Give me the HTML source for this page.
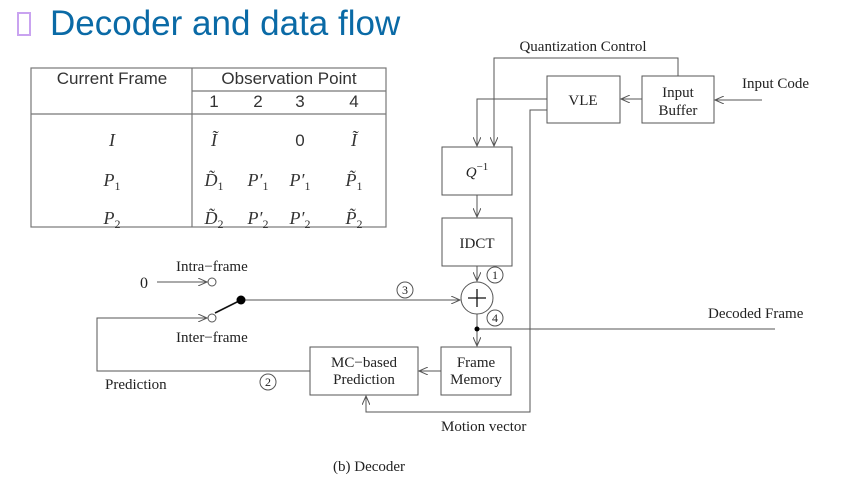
<!DOCTYPE html>
<html><head><meta charset="utf-8"><style>
body{margin:0;width:851px;height:482px;background:#fff;overflow:hidden;position:relative;font-family:"Liberation Serif",serif}
.t{position:absolute;white-space:nowrap}
</style></head><body>
<div class="t" style="left:17px;top:12px;width:14px;height:24px;border:2px solid #c9a3f0;box-sizing:border-box"></div>
<div class="t" style="left:50px;top:4px;font-family:'Liberation Sans',sans-serif;font-size:35px;color:#0a6aa6">Decoder and data flow</div>
<svg width="851" height="482" style="position:absolute;left:0;top:0" font-family="Liberation Serif, serif" font-size="15">
<defs><marker id="a" markerWidth="10" markerHeight="8" refX="9" refY="4" orient="auto" markerUnits="userSpaceOnUse"><path d="M0,0 L9,4 L0,8" fill="none" stroke="#555" stroke-width="1"/></marker></defs>
<g stroke="#777" fill="none" stroke-width="1.2">
<rect x="31" y="68" width="355" height="159"/>
<line x1="192" y1="68" x2="192" y2="227"/>
<line x1="192" y1="91" x2="386" y2="91"/>
<line x1="31" y1="114" x2="386" y2="114"/>
</g>
<g font-family="Liberation Sans, sans-serif" font-size="17" fill="#333" text-anchor="middle">
<text x="112" y="84">Current Frame</text><text x="289" y="84">Observation Point</text>
<text x="214" y="107">1</text><text x="258" y="107">2</text><text x="300" y="107">3</text><text x="354" y="107">4</text>
<text x="300" y="146">0</text>
</g>
<g font-family="Liberation Serif, serif" font-style="italic" font-size="18" fill="#333" text-anchor="middle">
<text x="112" y="146">I</text><text x="214" y="146">Ĩ</text><text x="354" y="146">Ĩ</text>
<text x="112" y="186">P<tspan font-size="12" dy="4" font-style="normal">1</tspan></text>
<text x="214" y="186">D̃<tspan font-size="12" dy="4" font-style="normal">1</tspan></text>
<text x="258" y="186">P′<tspan font-size="12" dy="4" font-style="normal">1</tspan></text>
<text x="300" y="186">P′<tspan font-size="12" dy="4" font-style="normal">1</tspan></text>
<text x="354" y="186">P̃<tspan font-size="12" dy="4" font-style="normal">1</tspan></text>
<text x="112" y="224">P<tspan font-size="12" dy="4" font-style="normal">2</tspan></text>
<text x="214" y="224">D̃<tspan font-size="12" dy="4" font-style="normal">2</tspan></text>
<text x="258" y="224">P′<tspan font-size="12" dy="4" font-style="normal">2</tspan></text>
<text x="300" y="224">P′<tspan font-size="12" dy="4" font-style="normal">2</tspan></text>
<text x="354" y="224">P̃<tspan font-size="12" dy="4" font-style="normal">2</tspan></text>
</g>
<g stroke="#555" fill="none" stroke-width="1">
<rect x="547" y="76" width="73" height="47"/>
<rect x="642" y="76" width="72" height="47"/>
<rect x="442" y="147" width="70" height="48"/>
<rect x="442" y="218" width="70" height="48"/>
<rect x="441" y="347" width="70" height="48"/>
<rect x="310" y="347" width="108" height="48"/>
<circle cx="477" cy="298" r="16"/>
<line x1="762" y1="100" x2="715" y2="100" marker-end="url(#a)"/>
<line x1="642" y1="99" x2="621" y2="99" marker-end="url(#a)"/>
<polyline points="678,76 678,58 494,58 494,146" marker-end="url(#a)"/>
<polyline points="547,99 477,99 477,146" marker-end="url(#a)"/>
<polyline points="547,110 530,110 530,412 366,412 366,396" marker-end="url(#a)"/>
<line x1="477" y1="195" x2="477" y2="217" marker-end="url(#a)"/>
<line x1="477" y1="266" x2="477" y2="281" marker-end="url(#a)"/>
<line x1="477" y1="314" x2="477" y2="346" marker-end="url(#a)"/>
<line x1="477" y1="329" x2="775" y2="329"/>
<line x1="441" y1="371" x2="419" y2="371" marker-end="url(#a)"/>
<polyline points="310,371 97,371 97,318 207,318" marker-end="url(#a)"/>
<line x1="157" y1="282" x2="207" y2="282" marker-end="url(#a)"/>
<line x1="241" y1="300" x2="460" y2="300" marker-end="url(#a)"/>
<circle cx="212" cy="282" r="4"/><circle cx="212" cy="318" r="4"/>
<line x1="215" y1="313" x2="241" y2="300" stroke="#111" stroke-width="1.6"/>
<circle cx="495" cy="275" r="8"/><circle cx="495" cy="318" r="8"/><circle cx="405" cy="290" r="8"/><circle cx="268" cy="382" r="8"/>
<line x1="468" y1="298" x2="486" y2="298" stroke="#111" stroke-width="1.3"/><line x1="477" y1="289" x2="477" y2="307" stroke="#111" stroke-width="1.3"/>
</g>
<circle cx="241" cy="300" r="4.5" fill="#000"/><circle cx="477" cy="329" r="2.5" fill="#000"/>
<g fill="#222" text-anchor="middle">
<text x="583" y="105">VLE</text><text x="678" y="97">Input</text><text x="678" y="115">Buffer</text>
<text x="477" y="177" font-style="italic">Q<tspan font-size="11" dy="-7" font-style="normal">−1</tspan></text>
<text x="477" y="248">IDCT</text>
<text x="476" y="367">Frame</text><text x="476" y="384">Memory</text>
<text x="364" y="367">MC−based</text><text x="364" y="384">Prediction</text>
<text x="583" y="51">Quantization Control</text>
<text x="495" y="279" font-size="12">1</text><text x="495" y="322" font-size="12">4</text><text x="405" y="294" font-size="12">3</text><text x="268" y="386" font-size="12">2</text>
</g>
<g fill="#222">
<text x="742" y="88">Input Code</text><text x="708" y="318">Decoded Frame</text>
<text x="176" y="271">Intra−frame</text><text x="176" y="342">Inter−frame</text>
<text x="140" y="288" font-size="16">0</text>
<text x="105" y="389">Prediction</text><text x="441" y="431">Motion vector</text>
<text x="333" y="471">(b)  Decoder</text>
</g>
</svg>
</body></html>
